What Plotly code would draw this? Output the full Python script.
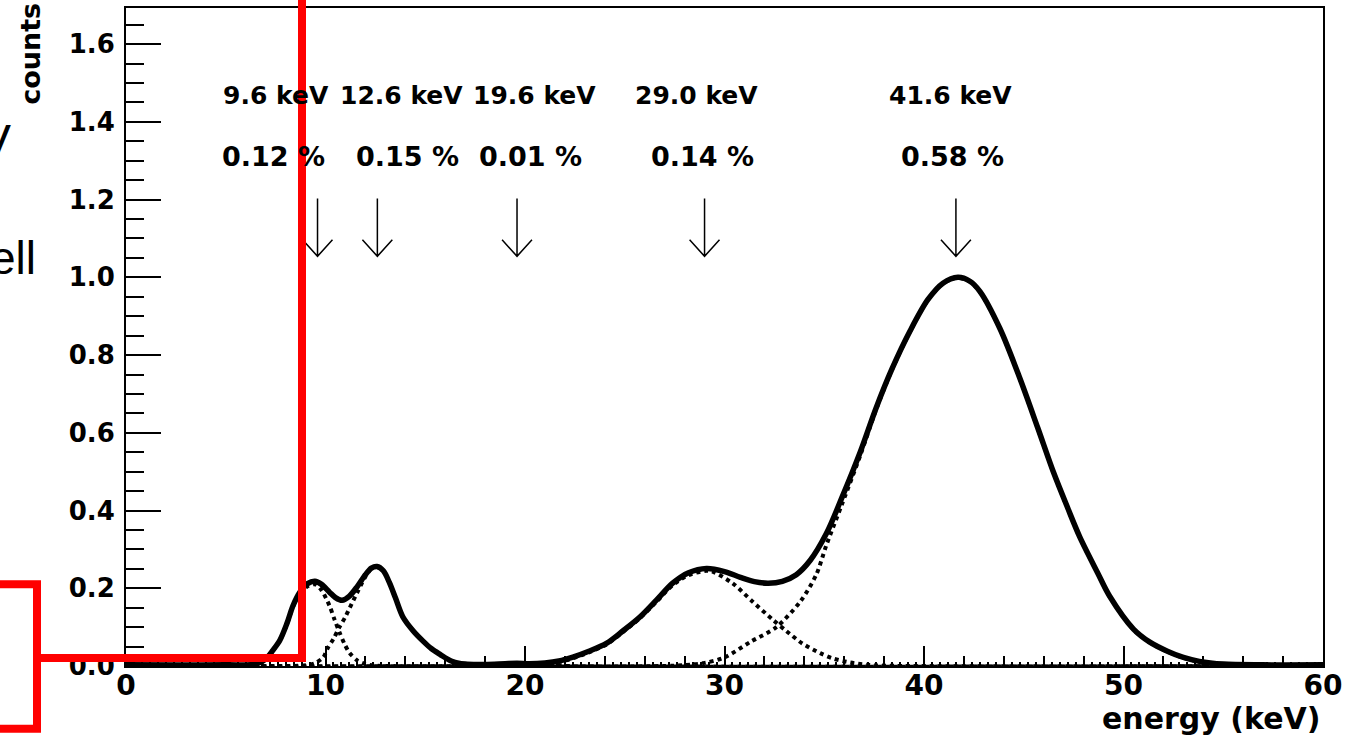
import plotly.graph_objects as go

# ---- fitted spectrum (total fit) ----
total_energy = [0, 5.0, 6.5, 7.0, 7.37, 7.72, 8.07, 8.37, 8.72, 9.1, 9.47, 9.8, 10.2, 10.5,
                10.83, 11.2, 11.6, 12.0, 12.3, 12.58, 12.9, 13.2, 13.5, 13.88, 14.4, 14.89,
                15.3, 15.74, 16.3, 17.0, 18.0, 19.0, 19.6, 20.2, 21.0, 21.7, 22.4, 23.2,
                24.1, 24.9, 25.76, 26.6, 27.4, 28.2, 29.1, 30.0, 30.8, 31.5, 32.2, 32.9,
                33.6, 34.3, 35.1, 35.9, 36.8, 37.6, 38.4, 39.3, 40.2, 40.95, 41.7, 42.3,
                42.8, 43.8, 44.8, 45.7, 46.5, 47.2, 47.8, 48.7, 49.3, 50.5, 51.3, 52.2,
                53.0, 53.8, 55.0, 57.0, 60.0]
total_counts = [0.003, 0.003, 0.005, 0.018, 0.041, 0.067, 0.11, 0.155, 0.19, 0.212, 0.218,
                0.21, 0.19, 0.176, 0.169, 0.18, 0.205, 0.235, 0.252, 0.256, 0.245, 0.215,
                0.176, 0.126, 0.09, 0.064, 0.045, 0.03, 0.013, 0.005, 0.004, 0.006, 0.007,
                0.006, 0.008, 0.013, 0.023, 0.038, 0.059, 0.09, 0.126, 0.17, 0.213, 0.24,
                0.251, 0.243, 0.228, 0.217, 0.213, 0.218, 0.235, 0.272, 0.34, 0.435, 0.55,
                0.664, 0.765, 0.862, 0.943, 0.985, 1.0, 0.99, 0.964, 0.869, 0.741, 0.613,
                0.497, 0.407, 0.333, 0.24, 0.18, 0.095, 0.062, 0.038, 0.022, 0.012, 0.005,
                0.003, 0.003]

# ---- individual line components (dotted) ----
c96_energy = [0, 6.5, 7.0, 7.37, 7.72, 8.07, 8.37, 8.72, 9.1, 9.47, 9.8, 10.2, 10.45, 10.7,
              10.95, 11.2, 11.6, 12.0, 12.5, 13.0, 60]
c96_counts = [0, 0.004, 0.017, 0.04, 0.066, 0.108, 0.152, 0.186, 0.205, 0.21, 0.195, 0.155,
              0.12, 0.087, 0.057, 0.034, 0.014, 0.005, 0.001, 0, 0]

c126_energy = [0, 9.0, 9.5, 9.9, 10.1, 10.4, 10.7, 10.98, 11.2, 11.6, 12.0, 12.3, 12.58,
               12.9, 13.2, 13.5, 13.88, 14.4, 14.89, 15.3, 15.74, 16.3, 17.0, 18.0, 60]
c126_counts = [0, 0.002, 0.008, 0.023, 0.045, 0.07, 0.1, 0.125, 0.148, 0.19, 0.23, 0.25,
               0.255, 0.245, 0.215, 0.176, 0.126, 0.09, 0.064, 0.045, 0.03, 0.013, 0.004,
               0.0, 0]

c196_energy = [0, 17.0, 18.5, 19.6, 20.7, 22.0, 60]
c196_counts = [0, 0, 0.003, 0.005, 0.003, 0, 0]

c290_energy = [0, 19.5, 20.7, 21.7, 22.4, 23.2, 24.1, 24.9, 25.76, 26.6, 27.4, 28.2, 29.1,
               29.4, 30.4, 31.4, 32.4, 33.1, 33.9, 34.8, 35.4, 36.3, 37.5, 60]
c290_counts = [0, 0.0, 0.003, 0.01, 0.02, 0.035, 0.056, 0.087, 0.123, 0.166, 0.208, 0.234,
               0.245, 0.243, 0.213, 0.166, 0.12, 0.09, 0.058, 0.033, 0.02, 0.009, 0.002, 0]

c416_energy = [0, 27.5, 29.0, 30.0, 31.3, 32.6, 33.8, 34.6, 35.1, 35.9, 36.8, 37.6, 38.4,
               39.3, 40.2, 40.95, 41.7, 42.3, 42.8, 43.8, 44.8, 45.7, 46.5, 47.2, 47.8,
               48.7, 49.3, 50.5, 51.3, 52.2, 53.0, 53.8, 55.0, 57.0, 60]
c416_counts = [0, 0.001, 0.008, 0.022, 0.062, 0.1, 0.166, 0.235, 0.31, 0.418, 0.541, 0.66,
               0.763, 0.861, 0.942, 0.984, 0.999, 0.989, 0.963, 0.868, 0.74, 0.612, 0.496,
               0.406, 0.332, 0.239, 0.179, 0.094, 0.061, 0.037, 0.021, 0.011, 0.004, 0.001, 0]

# ---- peak annotations ----
peak_energy = [9.6, 12.6, 19.6, 29.0, 41.6]
peak_fraction = [0.12, 0.15, 0.01, 0.14, 0.58]

x_ticks = [0, 10, 20, 30, 40, 50, 60]
y_ticks = [0.0, 0.2, 0.4, 0.6, 0.8, 1.0, 1.2, 1.4, 1.6]

# ---- geometry of the frame (pixels) ----
W, H = 1351, 737
L, R, T, B = 126, 28, 6, 71
PW, PH = W - L - R, H - T - B
Y_MAX = 1.693


def paper_x(px):
    return (px - L) / PW


def paper_y(py):
    return (H - B - py) / PH


FONT = "DejaVu Sans"

fig = go.Figure()

dotted = dict(color="black", width=4, dash="4px,4px", shape="spline", smoothing=0.8)
for ex, cy in [(c96_energy, c96_counts), (c126_energy, c126_counts),
               (c196_energy, c196_counts), (c290_energy, c290_counts),
               (c416_energy, c416_counts)]:
    fig.add_trace(go.Scatter(x=ex, y=cy, mode="lines", line=dotted,
                             hoverinfo="skip", showlegend=False))

fig.add_trace(go.Scatter(x=total_energy, y=total_counts, mode="lines",
                         line=dict(color="black", width=5.5, shape="spline", smoothing=0.9),
                         hoverinfo="skip", showlegend=False))

# helper trace carrying the fine tick axis
fig.add_trace(go.Scatter(x=[0, 60], y=[0, 0], xaxis="x2", mode="lines",
                         line=dict(width=0), hoverinfo="skip", showlegend=False))

# arrows pointing at the lines
arrow_top, arrow_tip, wing_y, wing_dx = 1.203, 1.054, 1.097, 0.75
shapes = []
for e in peak_energy:
    shapes.append(dict(
        type="path", xref="x", yref="y",
        path=f"M {e} {arrow_top} L {e} {arrow_tip} M {e - wing_dx} {wing_y} "
             f"L {e} {arrow_tip} L {e + wing_dx} {wing_y}",
        line=dict(color="black", width=1.5)))

# red highlight boxes
shapes.append(dict(type="rect", xref="paper", yref="paper",
                   x0=paper_x(-40), x1=paper_x(302), y0=paper_y(658), y1=paper_y(-40),
                   line=dict(color="#ff0000", width=8), fillcolor="rgba(0,0,0,0)",
                   layer="above"))
shapes.append(dict(type="rect", xref="paper", yref="paper",
                   x0=paper_x(-40), x1=paper_x(37), y0=paper_y(729), y1=paper_y(584),
                   line=dict(color="#ff0000", width=8), fillcolor="white",
                   layer="above"))

annotations = []
label_kev_x = [7.52, 13.79, 20.5, 28.6, 41.35]
label_pct_x = [7.37, 14.1, 20.3, 28.9, 41.45]
for e, f, xk, xp in zip(peak_energy, peak_fraction, label_kev_x, label_pct_x):
    annotations.append(dict(x=xk, y=1.469, xref="x", yref="y", text=f"{e:.1f} keV",
                            showarrow=False, xanchor="center", yanchor="middle",
                            font=dict(family=FONT, size=25, color="black", weight="bold")))
    annotations.append(dict(x=xp, y=1.31, xref="x", yref="y", text=f"{f:.2f} %",
                            showarrow=False, xanchor="center", yanchor="middle",
                            font=dict(family=FONT, size=27, color="black", weight="bold")))

# axis titles
annotations.append(dict(x=paper_x(1322), y=paper_y(719), xref="paper", yref="paper",
                        text="energy (keV)", showarrow=False, xanchor="right",
                        yanchor="middle",
                        font=dict(family=FONT, size=30, color="black", weight="bold")))
annotations.append(dict(x=paper_x(31), y=paper_y(52), xref="paper", yref="paper",
                        text="counts", textangle=-90, showarrow=False, xanchor="center",
                        yanchor="middle",
                        font=dict(family=FONT, size=27, color="black", weight="bold")))

# slide text running in from the left edge
annotations.append(dict(x=paper_x(13), y=paper_y(140), xref="paper", yref="paper",
                        text="V", showarrow=False, xanchor="right", yanchor="middle",
                        font=dict(family="Liberation Sans", size=48, color="black")))
annotations.append(dict(x=paper_x(38), y=paper_y(257), xref="paper", yref="paper",
                        text="ell", showarrow=False, xanchor="right", yanchor="middle",
                        font=dict(family="Liberation Sans", size=46, color="black")))

fig.update_layout(
    width=W, height=H, autosize=False,
    margin=dict(l=L, r=R, t=T, b=B, pad=0),
    paper_bgcolor="white", plot_bgcolor="white",
    showlegend=False,
    shapes=shapes,
    annotations=annotations,
    xaxis=dict(
        range=[0, 60], tickvals=x_ticks, ticktext=[str(v) for v in x_ticks],
        ticks="inside", ticklen=20, tickwidth=2, tickcolor="black",
        minor=dict(dtick=2, tick0=0, ticks="inside", ticklen=10, tickwidth=2,
                   tickcolor="black", showgrid=False),
        showline=True, linecolor="black", linewidth=2, mirror=True,
        showgrid=False, zeroline=False, ticklabelstandoff=-7,
        tickfont=dict(family=FONT, size=28, color="black", weight="bold"),
    ),
    xaxis2=dict(
        range=[0, 60], overlaying="x", anchor="y", side="bottom",
        tick0=0, dtick=0.4, ticks="inside", ticklen=4, tickwidth=1.5,
        tickcolor="black", showticklabels=False, showgrid=False, zeroline=False,
        showline=False,
    ),
    yaxis=dict(
        range=[0, Y_MAX], tickvals=y_ticks, ticktext=[f"{v:.1f}" for v in y_ticks],
        ticks="inside", ticklen=35, tickwidth=2, tickcolor="black",
        minor=dict(dtick=0.05, tick0=0, ticks="inside", ticklen=18, tickwidth=2,
                   tickcolor="black", showgrid=False),
        showline=True, linecolor="black", linewidth=2, mirror=True,
        showgrid=False, zeroline=False, ticklabelstandoff=4,
        tickfont=dict(family=FONT, size=26, color="black", weight="bold"),
    ),
)

fig.write_html("out.html", config={"displayModeBar": False})
